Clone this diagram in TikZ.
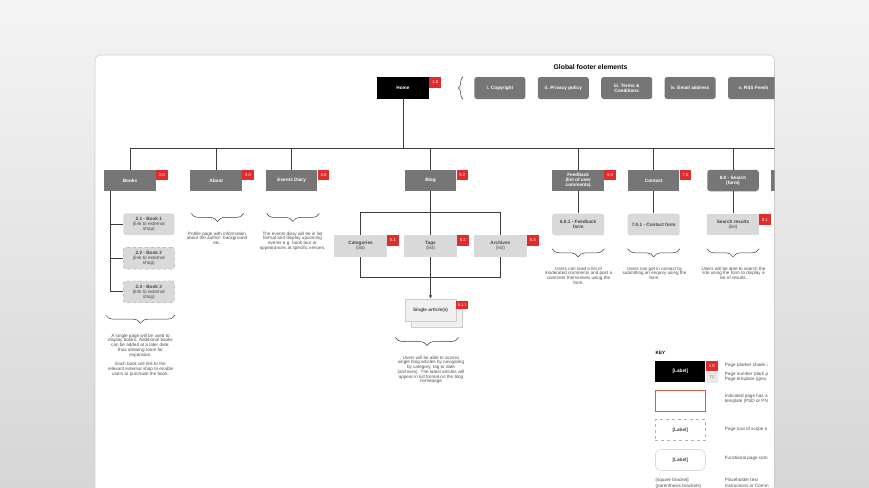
\documentclass[tikz,border=0pt]{standalone}
\usepackage{fontspec}
\setmainfont{Liberation Sans}
\usetikzlibrary{arrows.meta,positioning,decorations.pathreplacing}

\definecolor{bgtop}{RGB}{244,244,244}
\definecolor{bgbottom}{RGB}{214,214,214}
\definecolor{cardedge}{RGB}{205,205,205}
\definecolor{pagegray}{RGB}{118,118,118}
\definecolor{subgray}{RGB}{217,217,217}
\definecolor{subedge}{RGB}{170,170,170}
\definecolor{articlegray}{RGB}{240,240,240}
\definecolor{badgered}{RGB}{226,44,44}
\definecolor{tplred}{RGB}{222,90,74}
\definecolor{tplgray}{RGB}{232,232,232}
\definecolor{linegray}{RGB}{60,60,60}
\definecolor{notegray}{RGB}{80,80,80}
\definecolor{labelgray}{RGB}{70,70,70}

\newcommand{\titlefont}{\fontsize{6.8}{8}\selectfont\bfseries}
\newcommand{\boxfont}{\fontsize{4.7}{5}\selectfont\bfseries}
\newcommand{\notefont}{\fontsize{4.6}{4.75}\selectfont}
\newcommand{\badgefont}{\fontsize{4.2}{4.5}\selectfont}
\newcommand{\regtext}[1]{{\mdseries #1}}

\tikzset{
  pagedark/.style={fill=pagegray, text=white, minimum width=51.5pt, minimum height=21.5pt, inner sep=0pt, align=center, font=\boxfont},
  pagefoot/.style={pagedark, rounded corners=2.5pt, minimum width=51pt, minimum height=22pt},
  pagesub/.style={fill=subgray, text=labelgray, minimum width=52pt, minimum height=21.7pt, inner sep=0pt, align=center, font=\boxfont},
  pageno/.style={fill=badgered, text=white, minimum width=11.5pt, minimum height=10.5pt, inner sep=0pt, anchor=north west, font=\badgefont},
  keybox/.style={minimum width=50pt, minimum height=21.3pt, inner sep=0pt, text=labelgray, font=\boxfont},
  note/.style={align=center, font=\notefont, text=notegray, inner sep=0pt, anchor=north},
  keytext/.style={anchor=west, align=left, font=\notefont, text=notegray, inner sep=0pt},
  link/.style={draw=linegray, line width=0.7pt},
  notebrace/.style={draw=linegray, line width=0.5pt, decorate, decoration={brace, mirror, amplitude=8pt}},
  footbrace/.style={draw=linegray, line width=0.5pt, decorate, decoration={brace, amplitude=5pt}}
}

\begin{document}
\begin{tikzpicture}[x=1pt, y=1pt, node distance=12pt]
  \useasboundingbox (0,0) rectangle (869,-487);
  \shade[top color=bgtop, bottom color=bgbottom] (0,0) rectangle (869,-487);
  \filldraw[fill=white, draw=cardedge, line width=0.6pt, rounded corners=5pt] (95,-55) rectangle (774.5,-530);
  \begin{scope}
    \clip[rounded corners=5pt] (95,-55) rectangle (774.5,-530);

    % home and global footer
    \node (footer) [font=\titlefont] at (590.5,-67) {Global footer elements};
    \node (home) [pagedark, fill=black, minimum width=52pt, minimum height=22pt] at (403,-88) {Home};
    \node (home-no) [pageno, minimum width=12pt, minimum height=11pt] at (home.north east) {1.0};
    \node (copyright) [pagefoot, right=45pt of home] {i. Copyright};
    \node (privacy) [pagefoot, right=of copyright] {ii. Privacy policy};
    \node (terms) [pagefoot, right=of privacy] {iii. Terms \&\\Conditions};
    \node (email) [pagefoot, right=of terms] {iv. Email address};
    \node (rss) [pagefoot, right=of email] {v. RSS Feeds};
    \draw[footbrace] ([xshift=-11pt]copyright.south west) -- ([xshift=-11pt]copyright.north west);

    % main sections
    \node (books) [pagedark] at (130,-180.5) {Books};
    \node (about) [pagedark] at (216.2,-180.5) {About};
    \node (events) [pagedark] at (291.7,-180.5) {Events Diary};
    \node (blog) [pagedark] at (430.5,-180.5) {Blog};
    \node (feedback) [pagedark] at (578.2,-180.5) {Feedback\\(list of user\\comments)};
    \node (contact) [pagedark] at (653.7,-180.5) {Contact};
    \node (search) [pagedark, rounded corners=3pt] at (733,-180.5) {8.0 - Search\\(form)};
    \node (ninth) [pagedark] at (797,-180.5) {};
    \foreach \n/\no in {books/2.0, about/3.0, events/4.0, blog/5.0, feedback/6.0, contact/7.0}
      \node (\n-no) [pageno] at (\n.north east) {\no};

    \coordinate (bus) at (403,-148);
    \draw[link] (home) -- (bus);
    \draw[link] (books |- bus) -- (ninth |- bus);
    \foreach \n in {books, about, events, blog, feedback, contact, search, ninth}
      \draw[link] (\n) -- (\n |- bus);

    % books
    \node (book1) [pagesub, rounded corners=2.5pt, minimum width=51pt] at (148.8,-224.2) {2.1 - Book 1\\\regtext{(link to external}\\\regtext{shop)}};
    \node (book2) [pagesub, rounded corners=2.5pt, minimum width=51pt, draw=subedge, dashed, line width=0.4pt] at (148.8,-258.2) {2.2 - Book 2\\\regtext{(link to external}\\\regtext{shop)}};
    \node (book3) [pagesub, rounded corners=2.5pt, minimum width=51pt, draw=subedge, dashed, line width=0.4pt] at (148.8,-291.8) {2.3 - Book 3\\\regtext{(link to external}\\\regtext{shop)}};
    \coordinate (trunk) at ([xshift=6.5pt]books.south west);
    \foreach \b in {book1, book2, book3}
      \draw[link] (trunk) |- (\b.west);
    \draw[notebrace] ([shift={(1.7pt,-12.3pt)}]books.west |- book3.south) -- ([shift={(0.7pt,-12.3pt)}]book3.south east);
    \node (booksnote) [note] at (140.5,-333.5) {A single page will be used to\\display books. Additional books\\can be added at a later date,\\thus allowing room for\\expansion.\\[4.75pt]Each book will link to the\\relevant external shop to enable\\users to purchase the book.};

    % about and events
    \draw[notebrace] ([shift={(1pt,-22pt)}]about.south west) -- ([shift={(1.6pt,-22pt)}]about.south east);
    \node (aboutnote) [note] at (217,-231.5) {Profile page with information\\about the author: background\\etc.};
    \draw[notebrace] ([shift={(0.7pt,-22pt)}]events.south west) -- ([shift={(1.7pt,-22pt)}]events.south east);
    \node (eventsnote) [note] at (292.5,-231.5) {The events diary will be in list\\format and display upcoming\\events e.g. book tour or\\appearances at specific venues.};

    % blog
    \node (tags) [pagesub, minimum width=52.5pt] at (430.5,-246) {Tags\\\regtext{(list)}};
    \node (categories) [pagesub, minimum width=52.5pt, left=17pt of tags] {Categories\\\regtext{(list)}};
    \node (archives) [pagesub, minimum width=52.5pt, right=17pt of tags] {Archives\\\regtext{(list)}};
    \foreach \n/\no in {categories/5.1, tags/5.2, archives/5.3}
      \node (\n-no) [pageno] at (\n.north east) {\no};
    \coordinate (blogsplit) at (430.5,-212.7);
    \coordinate (blogjoin) at (430.5,-277.7);
    \draw[link] (blog) -- (tags);
    \draw[link] (categories.north) |- (blogsplit) -| (archives.north);
    \draw[link] (categories.south) |- (blogjoin) -| (archives.south);

    \node (articleback) [fill=articlegray, draw=cardedge, line width=0.4pt, minimum width=51pt, minimum height=22pt] at (436.5,-316) {};
    \node (article) [fill=articlegray, draw=cardedge, line width=0.4pt, minimum width=51pt, minimum height=22pt, inner sep=0pt, text=labelgray, font=\boxfont] at (430.5,-310) {Single article(s)};
    \node (article-no) [pageno, minimum width=11.6pt, minimum height=8.6pt, font=\fontsize{3.9}{4}\selectfont] at ([yshift=-1.7pt]article.north east) {5.1.1};
    \draw[link, -{Latex[length=3.5pt, width=3.2pt]}] (tags) -- (article);
    \draw[notebrace] ([shift={(-9.5pt,-16.3pt)}]article.south west) -- ([shift={(2.5pt,-16.3pt)}]article.south east);
    \node (articlenote) [note] at (431,-355.5) {Users will be able to access\\single blog articles by navigating\\by category, tag or date\\(archives). The latest articles will\\appear in list format on the blog\\homepage};

    % feedback, contact, search
    \node (feedbackform) [pagesub, rounded corners=2.5pt, below=22pt of feedback] {6.0.1 - Feedback\\form};
    \node (contactform) [pagesub, rounded corners=2.5pt, below=22pt of contact] {7.0.1 - Contact form};
    \node (results) [pagesub, below=22pt of search] {Search results\\\regtext{(list)}};
    \node (results-no) [pageno] at ([yshift=-0.7pt]results.north east) {8.1};
    \foreach \p/\c in {feedback/feedbackform, contact/contactform, search/results}
      \draw[link] (\p) -- (\c);
    \foreach \c in {feedbackform, contactform, results}
      \draw[notebrace] ([yshift=-13.3pt]\c.south west) -- ([yshift=-13.3pt]\c.south east);
    \node (feedbacknote) [note] at (578.5,-266.5) {Users can read a list of\\moderated comments and post a\\comment themselves using the\\form.};
    \node (contactnote) [note] at (654.5,-266.5) {Users can get in contact by\\submitting an enquiry using the\\form.};
    \node (searchnote) [note] at (733.5,-266.5) {Users will be able to search the\\site using the form to display a\\list of results.};

    % key
    \node (key) [anchor=west, inner sep=0pt, font=\boxfont] at (655.5,-353.3) {KEY};
    \node (keypage) [keybox, fill=black, text=white] at (680.3,-371.7) {[Label]};
    \node (keypage-no) [pageno, minimum width=12pt, minimum height=10.3pt] at (keypage.north east) {1.0};
    \node (keypage-tpl) [pageno, fill=tplgray, text=gray, minimum width=12pt, minimum height=11pt] at (keypage-no.south west) {T1};
    \node (keytpl) [keybox, draw=tplred, line width=0.7pt, below=7pt of keypage] {};
    \node (keyscope) [keybox, draw=gray!60, dashed, line width=0.4pt, below=7.6pt of keytpl] {[Label]};
    \node (keyfunc) [keybox, draw=gray!45, rounded corners=6pt, line width=0.4pt, below=8.3pt of keyscope] {[Label]};
    \node (keytext1) [keytext] at (724.7,-365) {Page (darker shade i};
    \node (keytext2) [keytext] at (724.7,-376.5) {Page number (dark p\\Page template (grey};
    \node (keytext3) [keytext] at (724.7,-398.9) {Indicated page has a\\template (PSD or PN};
    \node (keytext4) [keytext] at (724.7,-429.3) {Page (out of scope o};
    \node (keytext5) [keytext] at (724.7,-458.3) {Functional page com};
    \node (keytext6) [keytext, anchor=north west] at (655.5,-477.5) {[square bracket]\\[1.7pt](parenthesis brackets)};
    \node (keytext7) [keytext, anchor=north west] at (724.7,-477.5) {Placeholder text\\[1.7pt]Instructions or Comm};
  \end{scope}
\end{tikzpicture}
\end{document}
